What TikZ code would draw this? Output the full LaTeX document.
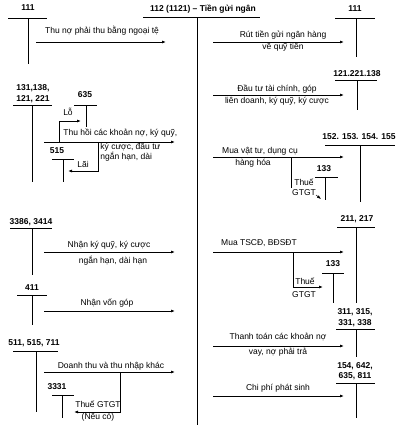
\documentclass[tikz,border=0pt]{standalone}
\usepackage{fontspec}
\setmainfont{Liberation Sans}
\usetikzlibrary{arrows.meta}
\begin{document}
\begin{tikzpicture}[x=1pt,y=-1pt,>={Latex[length=4pt,width=3pt]},line width=0.8pt]
    \tikzstyle{acc}=[font=\fontsize{8.5}{10.5}\selectfont\bfseries,inner sep=0pt,align=center]
    \tikzstyle{lbl}=[font=\fontsize{8.5}{10.5}\selectfont,inner sep=0pt,align=center]
    \tikzstyle{flow}=[->]
    \useasboundingbox (0,0) rectangle (400,429);
    % account labels
    \node[acc] (T_111a) at (28,8) {111};
    \node[acc] (T_112) at (203,9) {112 (1121) -- Tiền gửi ngân};
    \node[acc] (T_111b) at (355,9) {111};
    \node[acc] (T_121) at (357,74) {121.221.138};
    \node[acc] (T_131) at (33,93.5) {131,138,\\121, 221};
    \node[acc] (T_635) at (85,95) {635};
    \node[acc] (T_515) at (57,151) {515};
    \node[acc] (T_152) at (359,137) {152. 153. 154. 155};
    \node[acc] (T_133a) at (324,169) {133};
    \node[acc] (T_211) at (357,219) {211, 217};
    \node[acc] (T_133b) at (333,264) {133};
    \node[acc] (T_311) at (355,317.5) {311, 315,\\331, 338};
    \node[acc] (T_154) at (355,371) {154, 642,\\635, 811};
    \node[acc] (T_3386) at (31,222) {3386, 3414};
    \node[acc] (T_411) at (32,288) {411};
    \node[acc] (T_511) at (34,343) {511, 515, 711};
    \node[acc] (T_3331) at (57,387) {3331};
    % T lines
    \draw (143,17) -- (260,17) (197,17) -- (197,425);
    \draw (8,18) -- (47,18) (28,18) -- (28,64);
    \draw (13,105) -- (52,105) (32,105) -- (32,182);
    \draw (74,105) -- (97,105) (86,105) -- (86,127);
    \draw (52,159) -- (74,159) (63,159) -- (63,182);
    \draw (10,228) -- (52,228) (32,228) -- (32,275);
    \draw (17,295) -- (47,295) (32,295) -- (32,325);
    \draw (13,351) -- (58,351) (36,351) -- (36,412);
    \draw (52,395) -- (74,395) (62,395) -- (62,418);
    \draw (335,18) -- (375,18) (356,18) -- (356,57);
    \draw (335,80) -- (377,80) (357,80) -- (357,110);
    \draw (325,145) -- (395,145) (360,145) -- (360,202);
    \draw (315,177) -- (338,177) (325,177) -- (325,200);
    \draw (337,227) -- (375,227) (356,227) -- (356,303);
    \draw (322,273) -- (344,273) (333,273) -- (333,303);
    \draw (336,329) -- (375,329) (356,329) -- (356,357);
    \draw (336,383) -- (375,383) (356,383) -- (356,418);
    % arrow ends
    \coordinate (A_1s) at (36,42);   \coordinate (A_1e) at (166,42);
    \coordinate (A_2s) at (44,142);  \coordinate (A_2e) at (175,142);
    \coordinate (A_3s) at (44,252);  \coordinate (A_3e) at (175,252);
    \coordinate (A_4s) at (44,311);  \coordinate (A_4e) at (175,311);
    \coordinate (A_5s) at (44,372);  \coordinate (A_5e) at (175,372);
    \coordinate (B_1s) at (213,42);  \coordinate (B_1e) at (344,42);
    \coordinate (B_2s) at (213,95);  \coordinate (B_2e) at (344,95);
    \coordinate (B_3s) at (213,157); \coordinate (B_3e) at (344,157);
    \coordinate (B_4s) at (213,252); \coordinate (B_4e) at (344,252);
    \coordinate (B_5s) at (213,346); \coordinate (B_5e) at (344,346);
    \coordinate (B_6s) at (213,396); \coordinate (B_6e) at (344,396);
    \coordinate (L_lo) at (59,142);  \coordinate (L_loe) at (81,121);
    \coordinate (L_lai) at (98,142); \coordinate (L_laie) at (68,171);
    \coordinate (L_vat) at (120,372); \coordinate (L_vate) at (74,412);
    \coordinate (R_vat1) at (291,157); \coordinate (R_vat1b) at (291,188);
    \coordinate (R_tick) at (316,195); \coordinate (R_ticke) at (321,199);
    \coordinate (R_vat2) at (293,252); \coordinate (R_vat2e) at (323,287);
    % arrows
    \draw[flow] (A_1s) -- (A_1e);
    \draw[flow] (A_2s) -- (A_2e);
    \draw[flow] (A_3s) -- (A_3e);
    \draw[flow] (A_4s) -- (A_4e);
    \draw[flow] (A_5s) -- (A_5e);
    \draw[flow] (B_1s) -- (B_1e);
    \draw[flow] (B_2s) -- (B_2e);
    \draw[flow] (B_3s) -- (B_3e);
    \draw[flow] (B_4s) -- (B_4e);
    \draw[flow] (B_5s) -- (B_5e);
    \draw[flow] (B_6s) -- (B_6e);
    \draw[flow] (L_lo) |- (L_loe);
    \draw[flow] (L_lai) |- (L_laie);
    \draw[flow] (L_vat) |- (L_vate);
    \draw (R_vat1) -- (R_vat1b);
    \draw[flow,line width=0.5pt] (R_tick) -- (R_ticke);
    \draw[flow] (R_vat2) |- (R_vat2e);
    % texts
    \node[lbl] (t_1) at (102,31) {Thu nợ phải thu bằng ngoại tệ};
    \node[lbl] (t_2a) at (283,35) {Rút tiền gửi ngân hàng};
    \node[lbl] (t_2b) at (283,47) {về quỹ tiền};
    \node[lbl] (t_3a) at (277,89) {Đầu tư tài chính, góp};
    \node[lbl] (t_3b) at (277,101) {liên doanh, ký quỹ, ký cược};
    \node[lbl] (t_lo) at (68,112) {Lỗ};
    \node[lbl,anchor=west] (t_4a) at (63,133) {Thu hồi các khoản nợ, ký quỹ,};
    \node[lbl,anchor=west,align=left] (t_4b) at (100,152) {ký cược, đầu tư\\ngắn hạn, dài};
    \node[lbl] (t_lai) at (83,164) {Lãi};
    \node[lbl] (t_5a) at (260,151) {Mua vật tư, dụng cụ};
    \node[lbl] (t_5b) at (253,163) {hàng hóa};
    \node[lbl] (t_vat1) at (304,187.5) {Thuế\\GTGT};
    \node[lbl] (t_6) at (259,243) {Mua TSCĐ, BĐSĐT};
    \node[lbl] (t_vat2a) at (305,281) {Thuế};
    \node[lbl] (t_vat2b) at (304,295) {GTGT};
    \node[lbl] (t_7a) at (278,337) {Thanh toán các khoản nợ};
    \node[lbl] (t_7b) at (278,352) {vay, nợ phải trả};
    \node[lbl] (t_8) at (278,388) {Chi phí phát sinh};
    \node[lbl] (t_9a) at (109,245) {Nhận ký quỹ, ký cược};
    \node[lbl] (t_9b) at (113,261) {ngắn hạn, dài hạn};
    \node[lbl] (t_10) at (107,303) {Nhận vốn góp};
    \node[lbl] (t_11) at (111,366) {Doanh thu và thu nhập khác};
    \node[lbl] (t_vat3a) at (98,404) {Thuế GTGT};
    \node[lbl] (t_vat3b) at (98,417) {(Nếu có)};
\end{tikzpicture}
\end{document}
